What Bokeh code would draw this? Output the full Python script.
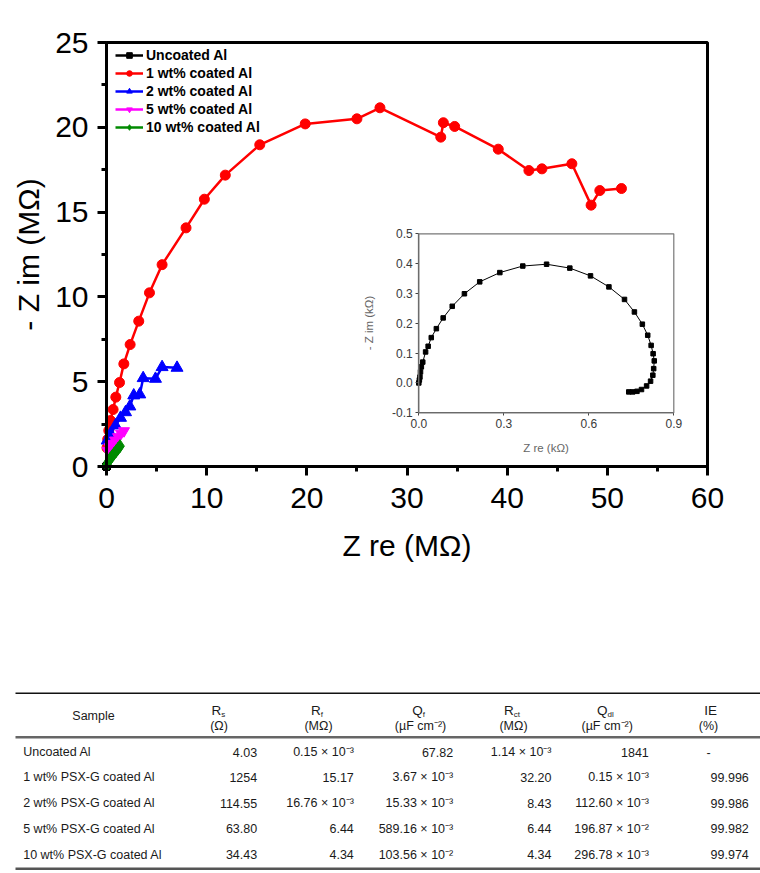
from bokeh.plotting import figure
from bokeh.models import (Range1d, LinearAxis, SingleIntervalTicker, FixedTicker,
                          Legend, LegendItem, BoxAnnotation, PrintfTickFormatter)
from bokeh.embed import file_html
from bokeh.resources import INLINE
from bokeh.core.properties import value

# ---------------- data ----------------
# 1 wt% coated Al (MOhm)
one_x = [0.05, 0.12, 0.23, 0.40, 0.66, 0.93, 1.30, 1.73, 2.36, 3.22, 4.29, 5.55, 7.94,
         9.77, 11.86, 15.3, 19.84, 25.0, 27.3, 33.37, 33.63, 34.76, 39.11, 42.17, 43.47,
         46.46, 48.38, 49.25, 51.41]
one_y = [1.1, 1.6, 2.12, 2.71, 3.36, 4.09, 4.95, 6.05, 7.19, 8.57, 10.24, 11.9, 14.07,
         15.76, 17.18, 18.97, 20.2, 20.5, 21.15, 19.42, 20.27, 20.05, 18.71, 17.45, 17.55,
         17.85, 15.41, 16.27, 16.39]
# 2 wt% coated Al
two_x = [0.07, 0.40, 0.90, 1.40, 1.90, 2.33, 2.72, 3.32, 3.66, 4.89, 5.55, 7.04]
two_y = [1.53, 1.93, 2.42, 2.87, 3.20, 3.54, 4.19, 4.25, 5.21, 5.17, 5.86, 5.82]
# 5 wt% coated Al
five_x = [0.10, 0.30, 0.55, 0.85, 1.15, 1.45, 1.75]
five_y = [0.95, 1.15, 1.35, 1.55, 1.75, 1.95, 2.10]
# 10 wt% coated Al
ten_x = [0.05, 0.20, 0.35, 0.55, 0.75, 0.95, 1.15, 1.35]
ten_y = [0.10, 0.30, 0.45, 0.60, 0.75, 0.90, 1.05, 1.20]
# Uncoated Al (inset, kOhm)
unc_x = [0.0, 0.002, 0.004, 0.006, 0.009, 0.014, 0.024, 0.033, 0.044, 0.062, 0.086, 0.118,
         0.161, 0.215, 0.286, 0.367, 0.451, 0.533, 0.606, 0.671, 0.726, 0.761, 0.789, 0.808,
         0.820, 0.827, 0.831, 0.829, 0.826, 0.818, 0.804, 0.786, 0.770, 0.755, 0.741]
unc_y = [0.0, 0.010, 0.020, 0.037, 0.054, 0.070, 0.104, 0.123, 0.152, 0.182, 0.218, 0.257,
         0.299, 0.339, 0.370, 0.392, 0.398, 0.385, 0.359, 0.322, 0.280, 0.238, 0.197, 0.160,
         0.126, 0.098, 0.074, 0.048, 0.026, 0.006, -0.010, -0.022, -0.028, -0.030, -0.030]

series_labels = ["Uncoated Al", "1 wt% coated Al", "2 wt% coated Al", "5 wt% coated Al",
                 "10 wt% coated Al"]

main_xlim = (0, 60)
main_ylim = (0, 25)
inset_xlim = (0.0, 0.9)
inset_ylim = (-0.1, 0.5)
inset_xticks = [0.0, 0.3, 0.6, 0.9]
inset_yticks = [-0.1, 0.0, 0.1, 0.2, 0.3, 0.4, 0.5]

# table
samples = ["Uncoated Al", "1 wt% PSX-G coated Al", "2 wt% PSX-G coated Al",
           "5 wt% PSX-G coated Al", "10 wt% PSX-G coated Al"]
col_symbols = ["R", "R", "Q", "R", "Q", "IE"]
col_subs = ["s", "f", "f", "ct", "dl", ""]
col_units = ["(Ω)", "(MΩ)", "(µF cm⁻²)", "(MΩ)", "(µF cm⁻²)", "(%)"]
rs = ["4.03", "1254", "114.55", "63.80", "34.43"]
rf = ["0.15 × 10⁻³", "15.17", "16.76 × 10⁻³", "6.44", "4.34"]
qf = ["67.82", "3.67 × 10⁻³", "15.33 × 10⁻³", "589.16 × 10⁻³", "103.56 × 10⁻²"]
rct = ["1.14 × 10⁻³", "32.20", "8.43", "6.44", "4.34"]
qdl = ["1841", "0.15 × 10⁻³", "112.60 × 10⁻³", "196.87 × 10⁻²", "296.78 × 10⁻³"]
ie = ["-", "99.996", "99.986", "99.982", "99.974"]

# ---------------- page geometry (pixels) ----------------
FONT = "Liberation Sans"
W, H = 760, 873
# main plot box
ML, MR, MT, MB = 106, 707, 42, 466
# inset box
IL, IR, IT, IB = 418.3, 673.3, 233.3, 412.3


def span_range(lo, hi, p_lo, p_hi, total):
    """range over the whole page so that [lo, hi] lands on pixels [p_lo, p_hi]"""
    s = (hi - lo) / (p_hi - p_lo)
    return Range1d(lo - p_lo * s, hi + (total - p_hi) * s)


def span_range_y(lo, hi, p_bottom, p_top, total):
    s = (hi - lo) / (p_bottom - p_top)
    return Range1d(lo - (total - p_bottom) * s, hi + p_top * s)


p = figure(width=W, height=H, min_border=0, x_range=Range1d(0, W), y_range=Range1d(H, 0),
           x_axis_type=None, y_axis_type=None, output_backend="svg",
           toolbar_location=None)
p.grid.visible = False
p.outline_line_color = None
p.extra_x_ranges = {"mx": span_range(*main_xlim, ML, MR, W),
                    "ix": span_range(*inset_xlim, IL, IR, W)}
p.extra_y_ranges = {"my": span_range_y(*main_ylim, MB, MT, H),
                    "iy": span_range_y(*inset_ylim, IB, IT, H)}

# ---------------- main axes ----------------
mxa = LinearAxis(x_range_name="mx", y_range_name="my", fixed_location=main_ylim[0],
                 bounds=main_xlim, ticker=SingleIntervalTicker(interval=10, num_minor_ticks=2),
                 axis_label="Z re (MΩ)")
mya = LinearAxis(x_range_name="mx", y_range_name="my", fixed_location=main_xlim[0],
                 bounds=main_ylim, ticker=SingleIntervalTicker(interval=5, num_minor_ticks=2),
                 axis_label="- Z im (MΩ)")
for ax in (mxa, mya):
    ax.axis_line_width = 3
    ax.major_tick_line_width = 3
    ax.minor_tick_line_width = 3
    ax.major_tick_in = 0
    ax.major_tick_out = 9
    ax.minor_tick_in = 0
    ax.minor_tick_out = 5
    ax.major_label_text_font = FONT
    ax.major_label_text_font_size = "30px"
    ax.major_label_text_color = "black"
    ax.axis_label_text_font = FONT
    ax.axis_label_text_font_size = "30px"
    ax.axis_label_text_font_style = "normal"
    ax.axis_label_text_color = "black"
mxa.major_label_standoff = 12
mxa.axis_label_standoff = 18
mya.major_label_standoff = 9
mya.axis_label_standoff = 7
p.add_layout(mxa, "below")
p.add_layout(mya, "left")
p.add_layout(BoxAnnotation(left=main_xlim[0], right=main_xlim[1], bottom=main_ylim[0],
                           top=main_ylim[1], x_range_name="mx", y_range_name="my",
                           fill_alpha=0, line_color="black", line_alpha=1, line_width=3))

# ---------------- inset axes ----------------
iax = LinearAxis(x_range_name="ix", y_range_name="iy", fixed_location=inset_ylim[0],
                 bounds=inset_xlim, ticker=FixedTicker(ticks=inset_xticks),
                 formatter=PrintfTickFormatter(format="%.1f"), axis_label="Z re (kΩ)")
iay = LinearAxis(x_range_name="ix", y_range_name="iy", fixed_location=inset_xlim[0],
                 bounds=inset_ylim, ticker=FixedTicker(ticks=inset_yticks),
                 formatter=PrintfTickFormatter(format="%.1f"), axis_label="- Z im (kΩ)")
for ax in (iax, iay):
    ax.axis_line_color = "#444444"
    ax.axis_line_width = 1.2
    ax.major_tick_line_color = "#444444"
    ax.major_tick_in = 0
    ax.major_tick_out = 3
    ax.minor_tick_line_color = None
    ax.major_label_text_font = FONT
    ax.major_label_text_font_size = "12px"
    ax.major_label_text_color = "#3a3a3a"
    ax.major_label_standoff = 3
    ax.axis_label_text_font = FONT
    ax.axis_label_text_font_size = "11.5px"
    ax.axis_label_text_font_style = "normal"
    ax.axis_label_text_color = "#666666"
iax.axis_label_standoff = 11
iay.axis_label_standoff = 14
p.add_layout(iax, "below")
p.add_layout(iay, "left")
p.add_layout(BoxAnnotation(left=inset_xlim[0], right=inset_xlim[1], bottom=inset_ylim[0],
                           top=inset_ylim[1], x_range_name="ix", y_range_name="iy",
                           fill_alpha=0, line_color="#777777", line_alpha=1, line_width=1.2))

# inset series (kOhm)
p.line(unc_x, unc_y, x_range_name="ix", y_range_name="iy", line_color="black", line_width=1)
p.scatter(unc_x, unc_y, x_range_name="ix", y_range_name="iy", marker="square", size=4.5,
          color="black")

# ---------------- main series (MOhm) ----------------
RED, BLUE, MAG, GRN = "#ff0000", "#0000ff", "#ff00ff", "#008a00"
unc_xM = [v / 1000.0 for v in unc_x]
unc_yM = [v / 1000.0 for v in unc_y]
MR_ = dict(x_range_name="mx", y_range_name="my")
rul = p.line(unc_xM, unc_yM, line_color="black", line_width=2.5, **MR_)
rus = p.scatter(unc_xM, unc_yM, marker="square", size=7, color="black", **MR_)
r1l = p.line(one_x, one_y, line_color=RED, line_width=2.5, **MR_)
r1s = p.scatter(one_x, one_y, marker="circle", size=10, color=RED, **MR_)
r2l = p.line(two_x, two_y, line_color=BLUE, line_width=2.5, **MR_)
r2s = p.scatter(two_x, two_y, marker="triangle", size=12, color=BLUE, **MR_)
r5l = p.line(five_x, five_y, line_color=MAG, line_width=2.5, **MR_)
r5s = p.scatter(five_x, five_y, marker="inverted_triangle", size=11, color=MAG, **MR_)
r10l = p.line(ten_x, ten_y, line_color=GRN, line_width=2.5, **MR_)
r10s = p.scatter(ten_x, ten_y, marker="diamond", size=13, color=GRN, **MR_)

LEG_LEFT, LEG_TOP, ROW = 115, 46, 18
legend = Legend(items=[LegendItem(label=series_labels[0], renderers=[rul, rus]),
                       LegendItem(label=series_labels[1], renderers=[r1l, r1s]),
                       LegendItem(label=series_labels[2], renderers=[r2l, r2s]),
                       LegendItem(label=series_labels[3], renderers=[r5l, r5s]),
                       LegendItem(label=series_labels[4], renderers=[r10l, r10s])],
                location=(LEG_LEFT, H - LEG_TOP - 5 * ROW))
legend.background_fill_alpha = 0
legend.border_line_alpha = 0
legend.label_text_font = FONT
legend.label_text_font_size = "14px"
legend.label_text_font_style = "bold"
legend.label_text_color = "black"
legend.glyph_width = 28
legend.glyph_height = 14
legend.label_height = ROW
legend.label_standoff = 3
legend.spacing = 0
legend.padding = 0
legend.margin = 0
p.add_layout(legend)

# ---------------- table ----------------
Y_TOP, Y_SEP, Y_BOT = 692.7, 736.7, 868.3
Y_H1, Y_H2, Y_HS = 710, 725, 715.7
ROW_Y = [751.7, 776.7, 802.7, 828.3, 854]
X0 = 15
SAMPLE_X, SAMPLE_HC = 22.7, 93
COL_R = [256.7, 353.3, 452.7, 551, 648.3, 748.3]
COL_HC = [218.5, 318, 420, 513, 606.7, 708]
TXT = "#1a1a1a"
FS = "12.5px"

p.segment(x0=[X0, X0, X0], y0=[Y_TOP, Y_SEP, Y_BOT], x1=[W, W, W], y1=[Y_TOP, Y_SEP, Y_BOT],
          line_color=["#111111", "#666666", "#555555"], line_width=[1.5, 2.5, 2.5])


def txt(xs, ys, texts, align, size=FS, color=TXT):
    p.text(x=xs, y=ys, text=texts, text_align=align, text_baseline="middle",
           text_font=value(FONT), text_font_size=size, text_color=color)


txt([SAMPLE_HC], [Y_HS], ["Sample"], "center")
txt([SAMPLE_X] * len(samples), ROW_Y, samples, "left")
for i, (sym, sub, unit) in enumerate(zip(col_symbols, col_subs, col_units)):
    wsym, wsub = 8.5 * len(sym), 4.0 * len(sub)
    xs0 = COL_HC[i] - (wsub - wsym) / 2.0
    txt([xs0], [Y_H1], [sym], "right", size="13.5px")
    if sub:
        txt([xs0], [Y_H1 + 4], [sub], "left", size="8px")
    txt([COL_HC[i]], [Y_H2], [unit], "center")

cols = [rs, rf, qf, rct, qdl, ie]
for i, vals in enumerate(cols):
    for j, v in enumerate(vals):
        if v == "-":
            txt([COL_HC[i]], [ROW_Y[j]], [v], "center")
        else:
            txt([COL_R[i]], [ROW_Y[j]], [v], "right")

open("out.html", "w").write(file_html(p, INLINE))
